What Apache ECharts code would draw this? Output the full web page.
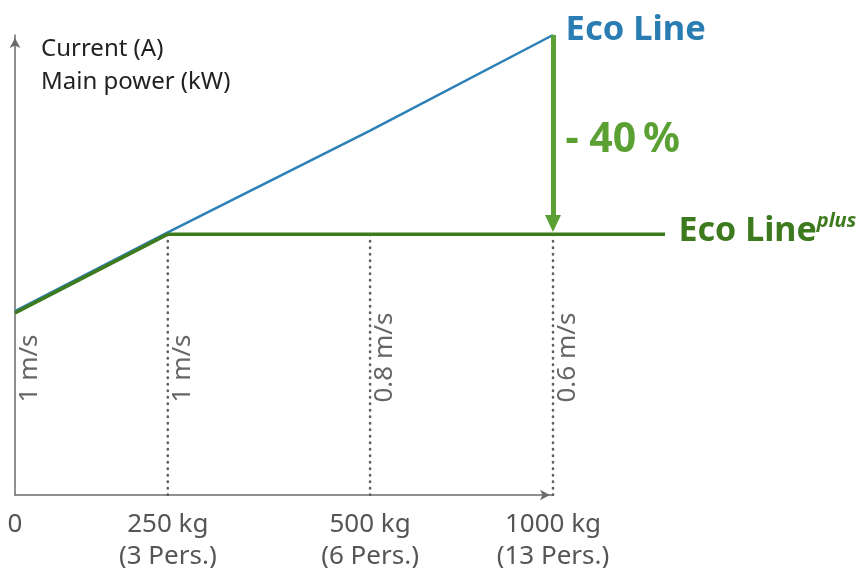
<!DOCTYPE html>
<html>
<head>
<meta charset="utf-8">
<script src="https://cdn.jsdelivr.net/npm/echarts@6/dist/echarts.min.js"></script>
<style>
html,body{margin:0;padding:0;background:#fff;}
#chart{width:858px;height:568px;}
</style>
</head>
<body>
<div id="chart"></div>
<script>
// Schematic x positions of the load marks (the reference axis is not to scale)
const xPos = [0, 284, 660, 1000];
const loadLabels = ['0', '250 kg\n(3 Pers.)', '500 kg\n(6 Pers.)', '1000 kg\n(13 Pers.)'];
const speedLabels = ['1 m/s', '1 m/s', '0.8 m/s', '0.6 m/s'];

// Eco Line (current / main power, relative units)
const ecoLineX = [0, 284, 660, 1000];
const ecoLineY = [40, 57.1, 79.2, 100];

// Eco Line plus
const ecoPlusX = [0, 284, 660, 1000, 1208];
const ecoPlusY = [39.6, 56.7, 56.7, 56.7, 56.7];

const reductionText = '- 40\u2009%';
const yAxisTitle = 'Current (A)\nMain power (kW)';

const FONT = 'Noto Sans';
const BLUE = '#2b80b8';
const BLUE_TXT = '#2a7db3';
const GREEN = '#3d7a1e';
const GREEN_ARROW = '#5aa032';
const AXIS = '#6b6b6b';

const chart = echarts.init(document.getElementById('chart'), null, {renderer: 'canvas'});

const pairs = (xs, ys) => xs.map((x, i) => [x, ys[i]]);
const plateauAt = x => ecoPlusY[ecoPlusX.indexOf(x)];
const X_MAX = xPos[xPos.length - 1];
const X_EXT = ecoPlusX[ecoPlusX.length - 1];

const dropSeries = xPos.slice(1).map(x => ({
  type: 'line',
  data: [[x, 0], [x, plateauAt(x)]],
  symbol: 'none',
  silent: true,
  z: 1,
  lineStyle: {color: '#606060', width: 2.6, type: [0.5, 6], cap: 'round'}
}));

const LABEL_Y = 20.0;   // where the rotated speed labels start
const hiddenItem = {color: 'rgba(0,0,0,0)', opacity: 1};

const option = {
  animation: false,
  grid: [
    {left: 15, right: 305, top: 35, bottom: 73, containLabel: false, outerBoundsMode: 'none'},
    // wider twin grid, same scale, so the Eco Line plus line can run past the axis end
    {left: 15, right: 193, top: 35, bottom: 73, containLabel: false, outerBoundsMode: 'none'}
  ],
  xAxis: [{
    type: 'value', min: 0, max: X_MAX, gridIndex: 0,
    axisLine: {show: true, symbol: ['none', 'arrow'], symbolSize: [8, 10], symbolOffset: [0, -3],
      lineStyle: {color: AXIS, width: 1.5}},
    axisTick: {show: false},
    splitLine: {show: false},
    axisLabel: {
      customValues: xPos,
      formatter: v => loadLabels[xPos.indexOf(v)],
      color: '#555', fontSize: 26, fontFamily: FONT, lineHeight: 32, margin: 14,
      align: 'center', hideOverlap: false
    }
  }, {
    type: 'value', min: 0, max: X_EXT, gridIndex: 1, show: false
  }],
  yAxis: [{
    type: 'value', min: 0, max: 100, gridIndex: 0,
    axisLine: {show: true, symbol: ['none', 'arrow'], symbolSize: [8, 10], symbolOffset: [0, -3],
      lineStyle: {color: AXIS, width: 1.5}},
    axisTick: {show: false},
    axisLabel: {show: false},
    splitLine: {show: false}
  }, {
    type: 'value', min: 0, max: 100, gridIndex: 1, show: false
  }],
  graphic: [{
    type: 'text', left: 41, top: 33,
    style: {text: yAxisTitle, font: '24px "Noto Sans"', fill: '#222', lineHeight: 33}
  }],
  series: [
    ...dropSeries,
    {
      type: 'line', name: 'Eco Line', data: pairs(ecoLineX, ecoLineY),
      symbol: 'none', z: 3,
      lineStyle: {color: BLUE, width: 2.5}
    },
    {
      type: 'line', name: 'Eco Line plus', data: pairs(ecoPlusX, ecoPlusY),
      xAxisIndex: 1, yAxisIndex: 1,
      symbol: 'none', z: 4,
      lineStyle: {color: GREEN, width: 3.5}
    },
    {
      type: 'line', data: [], z: 5,
      markLine: {
        silent: true, animation: false,
        symbol: ['none', 'triangle'], symbolSize: [16, 17],
        label: {show: false},
        lineStyle: {color: GREEN_ARROW, width: 5, type: 'solid'},
        data: [[{coord: [X_MAX, ecoLineY[ecoLineY.length - 1]]}, {coord: [X_MAX, 59.0]}]]
      }
    },
    {
      type: 'scatter', z: 6, silent: true,
      symbol: 'circle', symbolSize: 1, itemStyle: hiddenItem,
      data: xPos.map((x, i) => ({value: [x, LABEL_Y], name: speedLabels[i]})),
      label: {
        show: true, formatter: '{b}', position: [2, 0], rotate: 90,
        align: 'left', verticalAlign: 'top',
        color: '#666', fontSize: 26, fontFamily: FONT
      }
    },
    {
      type: 'scatter', z: 6, silent: true, xAxisIndex: 1, yAxisIndex: 1,
      symbol: 'circle', symbolSize: 1, itemStyle: hiddenItem,
      data: [
        {value: [ecoLineX[ecoLineX.length - 1], ecoLineY[ecoLineY.length - 1]],
          label: {formatter: 'Eco Line', color: BLUE_TXT, fontSize: 34.5, fontWeight: 'bold', offset: [0, -5], distance: 12}},
        {value: [X_MAX, 77.2],
          label: {formatter: reductionText, color: GREEN_ARROW, fontSize: 41, fontWeight: 'bold', distance: 12}},
        {value: [ecoPlusX[ecoPlusX.length - 1], ecoPlusY[ecoPlusY.length - 1]],
          label: {
            formatter: '{a|Eco Line}{b|plus}', offset: [0, -3], distance: 13,
            rich: {
              a: {color: GREEN, fontSize: 34, fontWeight: 'bold', fontFamily: FONT, lineHeight: 40},
              b: {color: GREEN, fontSize: 20, fontWeight: 'bold', fontStyle: 'italic', fontFamily: FONT, lineHeight: 24, verticalAlign: 'top'}
            }
          }}
      ],
      label: {show: true, position: 'right', fontFamily: FONT}
    }
  ]
};
chart.setOption(option);
</script>
</body>
</html>
